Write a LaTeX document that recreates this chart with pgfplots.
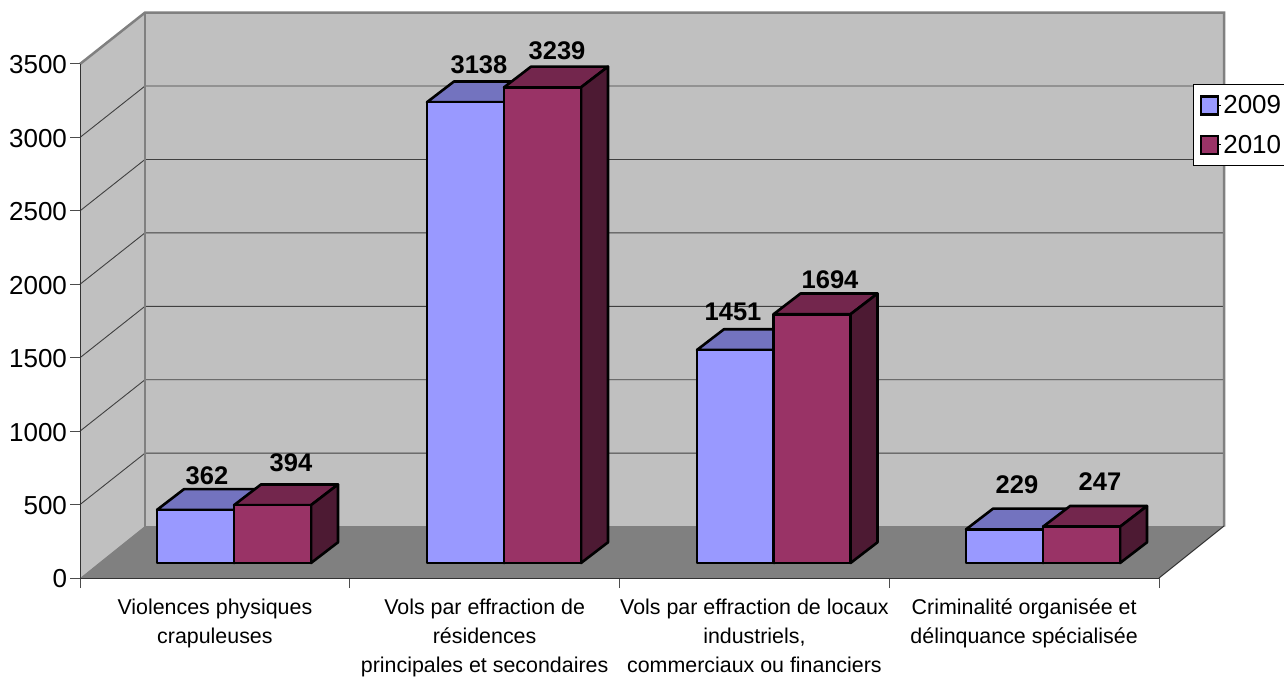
\documentclass[border=0pt]{standalone}
\usepackage{fontspec}
\setmainfont{Liberation Sans}
\usepackage{pgfplots}
\pgfplotsset{compat=1.18}

\definecolor{wall}{HTML}{C0C0C0}
\definecolor{floorc}{HTML}{808080}
\definecolor{frontA}{HTML}{9999FF}
\definecolor{topA}{HTML}{7373BF}
\definecolor{sideA}{HTML}{4D4D80}
\definecolor{frontB}{HTML}{993366}
\definecolor{topB}{HTML}{73264D}
\definecolor{sideB}{HTML}{4D1A33}

% x position of the front left corner (px), value, colour suffix
\newcommand{\tdbar}[3]{%
  \pgfmathsetmacro{\xa}{#1+77}%
  \pgfmathsetmacro{\xb}{#1+27}%
  \pgfmathsetmacro{\xc}{#1+104}%
  \pgfmathsetmacro{\yt}{102+#2}%
  \pgfmathsetmacro{\ytb}{102+#2+141}%
  \pgfmathsetmacro{\ybb}{102+141}%
  \addplot[forget plot,fill=top#3,draw=black,line width=2.6pt,line join=round] coordinates {(#1,\yt)(\xa,\yt)(\xc,\ytb)(\xb,\ytb)} -- cycle;
  \addplot[forget plot,fill=side#3,draw=black,line width=2.6pt,line join=round] coordinates {(\xa,102)(\xc,\ybb)(\xc,\ytb)(\xa,\yt)} -- cycle;
  \addplot[forget plot,fill=front#3,draw=black,line width=2.6pt,line join=round] coordinates {(#1,102)(\xa,102)(\xa,\yt)(#1,\yt)} -- cycle;
}
\newcommand{\gridline}[2]{%
  \addplot[forget plot,black!75,line width=0.9pt] coordinates {(80,#1)(145,#2)(1224,#2)};
}

\begin{document}
\begin{tikzpicture}
\useasboundingbox (0,0) rectangle (1284pt,677pt);
\begin{axis}[
  at={(80pt,99pt)}, anchor=south west,
  scale only axis, width=1079pt, height=514pt,
  xmin=80, xmax=1159, ymin=0, ymax=3500,
  clip=false, axis on top,
  axis x line=bottom, axis y line=left,
  axis line style={-,black!80,line width=1pt},
  tick align=outside, major tick length=10pt,
  tick style={black!70,line width=1pt},
  ytick={0,500,1000,1500,2000,2500,3000,3500},
  xtick={80,349.75,619.5,889.25,1159},
  xticklabels={},
  extra x ticks={214.9,484.6,754.4,1024.1},
  extra x tick labels={{Violences physiques\\crapuleuses},{Vols par effraction de\\résidences\\principales et secondaires},{Vols par effraction de locaux\\industriels,\\commerciaux ou financiers},{Criminalité organisée et\\délinquance spécialisée}},
  extra x tick style={major tick length=0pt},
  x tick label style={align=center,font=\fontsize{21.4}{29}\selectfont,anchor=north,yshift=-17pt},
  y tick label style={font=\fontsize{26}{30}\selectfont,xshift=0.5pt,yshift=-1pt},
  /pgf/number format/assume math mode=true,
  /pgf/number format/1000 sep={},
  legend style={
    at={(axis cs:1192.5,3364)}, anchor=north west,
    draw=black, line width=1pt, fill=white,
    font=\fontsize{26}{30}\selectfont,
    inner xsep=6.5pt, inner ysep=9pt,
    row sep=16pt,
    cells={anchor=west},
    legend cell align=left,
  },
  legend image code/.code={\path (0pt,0pt) -- (20pt,0pt);\draw[#1,line width=2.6pt] (0pt,-9pt) rectangle (17pt,9pt);},
]
% walls and floor
\addplot[forget plot,fill=wall,draw=none] coordinates {(145,350)(145,3850)(1224,3850)(1224,350)} -- cycle;
\addplot[forget plot,fill=wall,draw=none] coordinates {(80,0)(80,3500)(145,3850)(145,350)} -- cycle;
\gridline{500}{850}
\gridline{1000}{1350}
\gridline{1500}{1850}
\gridline{2000}{2350}
\gridline{2500}{2850}
\gridline{3000}{3350}
\addplot[forget plot,floorc,line width=2.5pt] coordinates {(80,3500)(145,3850)(1224,3850)(1224,350)};
\addplot[forget plot,floorc,line width=2.5pt] coordinates {(145,350)(145,3850)};
\addplot[forget plot,fill=floorc,draw=none] coordinates {(80,0)(145,354)(1224,354)(1159,0)} -- cycle;
\addplot[forget plot,black!80,line width=1pt] coordinates {(1159,0)(1224,354)};
% bars
\tdbar{157}{362}{A}
\tdbar{234}{394}{B}
\tdbar{427}{3138}{A}
\tdbar{504}{3239}{B}
\tdbar{697}{1451}{A}
\tdbar{773.5}{1694}{B}
\tdbar{966}{229}{A}
\tdbar{1043}{247}{B}
% value labels
\addplot[forget plot,only marks,mark=none,point meta=explicit symbolic,
  nodes near coords,
  every node near coord/.style={anchor=center,font=\fontsize{25.5}{30}\selectfont\bfseries,inner sep=0pt}]
  coordinates {
    (207,695)[362] (291,783)[394]
    (479,3493)[3138] (557,3588)[3239]
    (733,1811)[1451] (830,2029)[1694]
    (1017,633)[229] (1100,654)[247]
  };
\addlegendimage{fill=frontA,draw=black}
\addlegendentry{2009}
\addlegendimage{fill=frontB,draw=black}
\addlegendentry{2010}
\end{axis}
\end{tikzpicture}
\end{document}
